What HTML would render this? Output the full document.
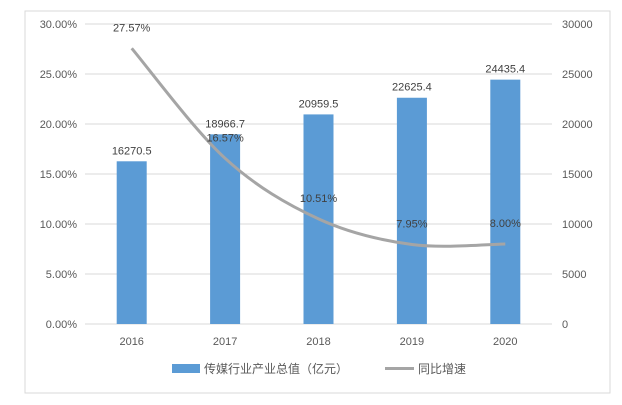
<!DOCTYPE html>
<html><head><meta charset="utf-8"><style>
body{margin:0;background:#fff;width:622px;height:400px;overflow:hidden}
svg{font-family:"Liberation Sans","Noto Sans CJK SC",sans-serif}
</style></head><body>
<svg id="c" width="622" height="400">
<rect x="25" y="11" width="585" height="382" fill="#fff" stroke="#d9d9d9"/>
<g id="g"></g>
<g>
<rect x="172" y="364" width="28" height="9" fill="#5b9bd5"/>
<text x="204" y="373" font-size="12" fill="#595959">传媒行业产业总值（亿元）</text>
<line x1="385" y1="368.5" x2="414" y2="368.5" stroke="#a5a5a5" stroke-width="3"/>
<text x="418" y="373" font-size="12" fill="#595959">同比增速</text>
</g>
</svg>
<script>
const categories=["2016","2017","2018","2019","2020"];
const outputValues=[16270.5,18966.7,20959.5,22625.4,24435.4];
const growthValues=[27.57,16.57,10.51,7.95,8.00];
const leftTicks=["0.00%","5.00%","10.00%","15.00%","20.00%","25.00%","30.00%"];
const rightTicks=[0,5000,10000,15000,20000,25000,30000];
const NS="http://www.w3.org/2000/svg";
const g=document.getElementById('g');
const x0=85,x1=552,yB=324,yT=24;
const yL=v=>yB-(v/30)*(yB-yT);
const yR=v=>yB-(v/30000)*(yB-yT);
const step=(x1-x0)/categories.length;
const xc=i=>x0+step*(i+0.5);
function mk(t,a,txt){const e=document.createElementNS(NS,t);for(const k in a)e.setAttribute(k,a[k]);if(txt!==undefined)e.textContent=txt;g.appendChild(e);return e;}
leftTicks.forEach((t,i)=>{const y=yL(i*5);
const l=mk('line',{x1:x0,x2:x1,y1:y,y2:y,stroke:'#d9d9d9'});


const a=mk('text',{x:77,y:y+4,'font-size':11,fill:'#595959','text-anchor':'end'},t);

});
rightTicks.forEach(v=>{const b=mk('text',{x:562,y:yR(v)+4,'font-size':11,fill:'#595959'},String(v));

});
categories.forEach((c,i)=>{const v=outputValues[i];
const r=mk('rect',{x:xc(i)-15,y:yR(v),width:30,height:yB-yR(v),fill:'#5b9bd5'});


const t=mk('text',{x:xc(i),y:yR(v)-7,'font-size':11,fill:'#404040','text-anchor':'middle'},v.toFixed(1));


const x=mk('text',{x:xc(i),y:345,'font-size':11,fill:'#595959','text-anchor':'middle'},c);

});
const pts=growthValues.map((v,i)=>[xc(i),yL(v)]);
let d='M'+pts[0][0]+','+pts[0][1];
for(let i=0;i<pts.length-1;i++){const p0=pts[Math.max(0,i-1)],p1=pts[i],p2=pts[i+1],p3=pts[Math.min(pts.length-1,i+2)];
d+=' C'+(p1[0]+(p2[0]-p0[0])/6)+','+(p1[1]+(p2[1]-p0[1])/6)+' '+(p2[0]-(p3[0]-p1[0])/6)+','+(p2[1]-(p3[1]-p1[1])/6)+' '+p2[0]+','+p2[1];}
const ln=mk('path',{d:d,fill:'none',stroke:'#a5a5a5','stroke-width':3});


growthValues.forEach((v,i)=>{const t=mk('text',{x:xc(i),y:yL(v)-17,'font-size':11,fill:'#404040','text-anchor':'middle'},v.toFixed(2)+'%');

});
</script>
</body></html>
